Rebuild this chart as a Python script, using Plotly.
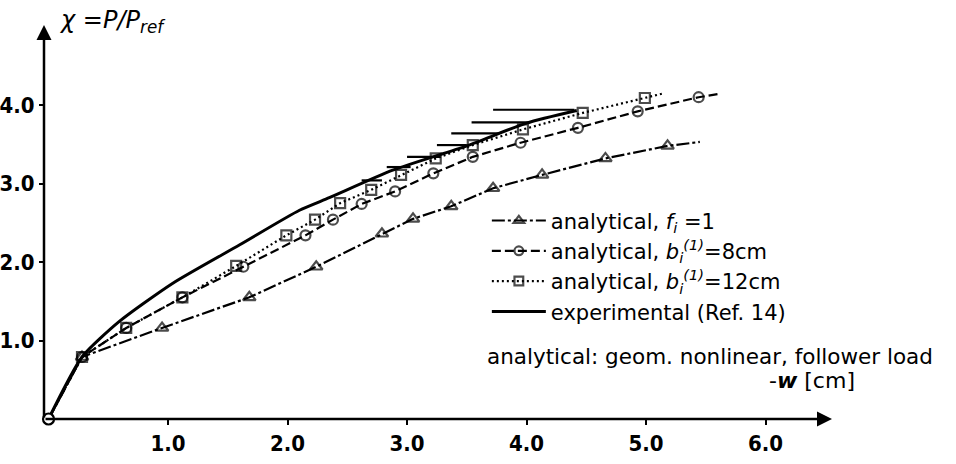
import plotly.graph_objects as go

# ---- data ----
tri_x = [0, 0.28, 0.95, 1.68, 2.24, 2.79, 3.05, 3.37, 3.72, 4.13, 4.66, 5.18, 5.45]
tri_y = [0, 0.79, 1.16, 1.55, 1.94, 2.36, 2.55, 2.71, 2.94, 3.11, 3.32, 3.48, 3.53]

cir_x = [0, 0.28, 0.65, 1.12, 1.63, 2.15, 2.38, 2.62, 2.90, 3.22, 3.55, 3.95, 4.43, 4.93, 5.44, 5.60]
cir_y = [0, 0.79, 1.16, 1.55, 1.94, 2.34, 2.54, 2.74, 2.90, 3.13, 3.34, 3.52, 3.71, 3.92, 4.10, 4.14]

sq_x = [0, 0.28, 0.65, 1.12, 1.57, 1.99, 2.23, 2.44, 2.70, 2.95, 3.24, 3.55, 3.97, 4.47, 4.99, 5.15]
sq_y = [0, 0.79, 1.16, 1.55, 1.95, 2.34, 2.54, 2.75, 2.92, 3.11, 3.32, 3.49, 3.69, 3.90, 4.09, 4.15]

exp_x = [0, 0.28, 0.59, 1.04, 1.60, 2.10, 2.35, 2.88, 3.50, 4.00, 4.42]
exp_y = [0, 0.79, 1.24, 1.73, 2.22, 2.66, 2.82, 3.17, 3.48, 3.77, 3.93]

# horizontal experimental scatter bars
bar_y    = [3.04, 3.21, 3.34, 3.49, 3.64, 3.78, 3.94]
bar_xmin = [2.62, 2.83, 3.00, 3.25, 3.37, 3.54, 3.72]
bar_xmax = [2.79, 3.03, 3.27, 3.50, 3.77, 4.03, 4.40]

x_ticks = [1, 2, 3, 4, 5, 6]
x_ticktext = ["1.0", "2.0", "3.0", "4.0", "5.0", "6.0"]
y_ticks = [1, 2, 3, 4]
y_ticktext = ["1.0", "2.0", "3.0", "4.0"]

legend_names = [
    "analytical, <i>f<sub>i</sub></i> =1",
    "analytical, <i>b<sub>i</sub><sup>(1)</sup></i>=8cm",
    "analytical, <i>b<sub>i</sub><sup>(1)</sup></i>=12cm",
    "experimental (Ref. 14)",
]

FONT = "DejaVu Sans"
TICKFONT = "DejaVu Sans Condensed, Liberation Sans Narrow, DejaVu Sans"
K = "black"


def sizes(n, s):
    # no marker at the origin and at the line end
    out = [s] * n
    out[0] = 0
    out[-1] = 0
    return out


fig = go.Figure()

fig.add_trace(go.Scatter(
    x=tri_x, y=tri_y, mode="lines+markers", name=legend_names[0], legendgroup="a",
    line=dict(color=K, width=2.2, dash="13px,3px,3px,3px"),
    marker=dict(symbol="triangle-up-open", size=sizes(len(tri_x), 11), color=K,
                line=dict(width=2.2, color=K)),
))

fig.add_trace(go.Scatter(
    x=cir_x, y=cir_y, mode="lines+markers", name=legend_names[1], legendgroup="b",
    line=dict(color=K, width=2.2, dash="9px,4px"),
    marker=dict(symbol="circle-open", size=sizes(len(cir_x), 10), color=K,
                line=dict(width=2.2, color=K)),
))

fig.add_trace(go.Scatter(
    x=sq_x, y=sq_y, mode="lines+markers", name=legend_names[2], legendgroup="c",
    line=dict(color=K, width=2.2, dash="2px,3px"),
    marker=dict(symbol="square-open", size=sizes(len(sq_x), 10), color=K,
                line=dict(width=2.2, color=K)),
))

fig.add_trace(go.Scatter(
    x=exp_x, y=exp_y, mode="lines", name=legend_names[3], legendgroup="d",
    line=dict(color=K, width=3, shape="spline", smoothing=0.6),
))

# origin marker
fig.add_trace(go.Scatter(
    x=[cir_x[0]], y=[cir_y[0]], mode="markers", showlegend=False,
    marker=dict(symbol="circle", size=11, color="white", line=dict(width=2.2, color=K)),
    cliponaxis=False,
))

bx, by = [], []
for yv, x0, x1 in zip(bar_y, bar_xmin, bar_xmax):
    bx += [x0, x1, None]
    by += [yv, yv, None]
fig.add_trace(go.Scatter(x=bx, y=by, mode="lines", showlegend=False,
                         line=dict(color=K, width=2.2)))

XMIN, XMAX = -0.038, 6.556
YMIN, YMAX = 0, 5.02

fig.update_layout(
    width=956, height=464,
    margin=dict(l=44, r=124, t=25, b=45, autoexpand=False),
    paper_bgcolor="white", plot_bgcolor="white",
    font=dict(family=FONT, color=K, size=21),
    showlegend=True,
    legend=dict(x=0.562, y=0.555, xanchor="left", yanchor="top",
                font=dict(size=21, family=FONT), tracegroupgap=0,
                bgcolor="rgba(0,0,0,0)", itemwidth=54),
    xaxis=dict(range=[XMIN, XMAX], tickvals=x_ticks, ticktext=x_ticktext,
               showgrid=False, zeroline=False, showline=False, automargin=False,
               ticks="outside", ticklen=5, tickwidth=2, tickcolor=K,
               tickfont=dict(size=22, family=TICKFONT, weight="bold"), ticklabelstandoff=0),
    yaxis=dict(range=[YMIN, YMAX], tickvals=y_ticks, ticktext=y_ticktext,
               showgrid=False, zeroline=False, showline=False, automargin=False,
               ticks="outside", ticklen=4, tickwidth=2, tickcolor=K,
               tickfont=dict(size=22, family=TICKFONT, weight="bold"), ticklabelstandoff=0),
)

# axes with arrowheads
fig.add_annotation(x=XMAX, y=0, ax=XMIN, ay=0, xref="x", yref="y", axref="x", ayref="y",
                   text="", showarrow=True, arrowhead=2, arrowsize=1.2, arrowwidth=2.5, arrowcolor=K)
fig.add_annotation(x=XMIN, y=YMAX, ax=XMIN, ay=0, xref="x", yref="y", axref="x", ayref="y",
                   text="", showarrow=True, arrowhead=2, arrowsize=1.2, arrowwidth=2.5, arrowcolor=K)

fig.add_annotation(xref="paper", yref="paper", x=0.016, y=1.008, xanchor="left", yanchor="middle",
                   text="<i>χ =P/P</i><sub><i>ref</i></sub>", showarrow=False,
                   font=dict(size=24, family=FONT))
fig.add_annotation(xref="paper", yref="paper", x=0.56, y=0.158, xanchor="left", yanchor="middle",
                   text="analytical: geom. nonlinear, follower load", showarrow=False,
                   font=dict(size=21.5, family=FONT))
fig.add_annotation(xref="paper", yref="paper", x=1.032, y=0.098, xanchor="right", yanchor="middle",
                   text="-<b><i>w</i></b> [cm]", showarrow=False,
                   font=dict(size=22, family=FONT))

fig.write_html("out.html", config={"displayModeBar": False},
               post_script="document.body.style.margin='0';")
